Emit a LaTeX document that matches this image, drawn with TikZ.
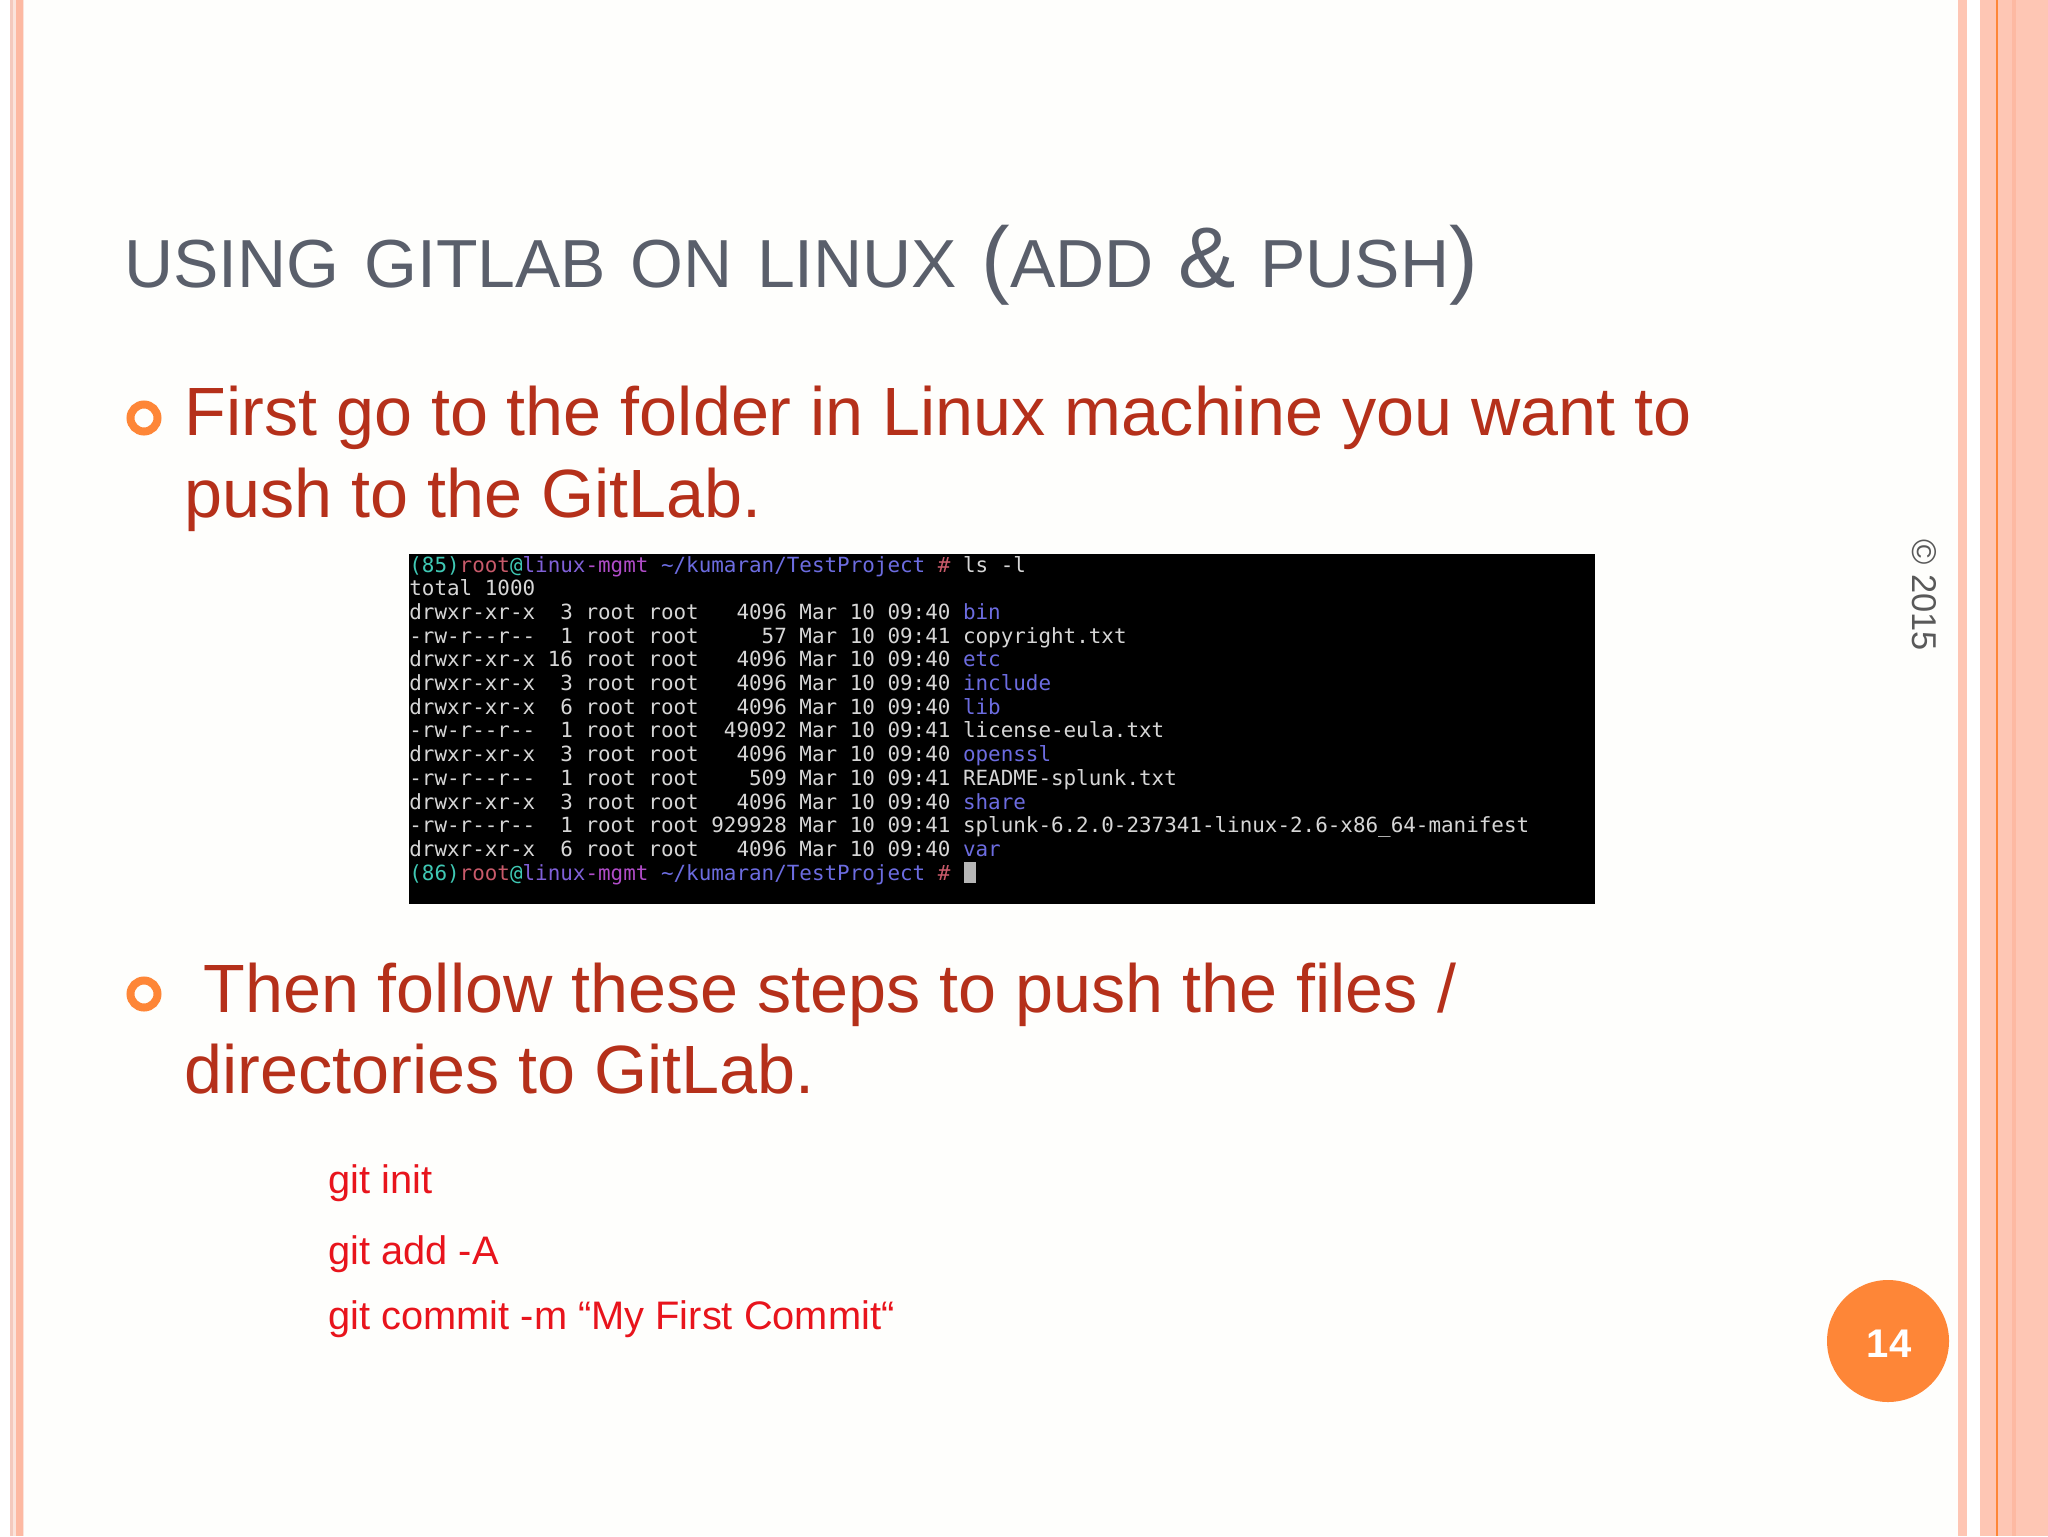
\documentclass[tikz,border=0pt]{standalone}
\usepackage{fontspec}
\setmainfont{Liberation Sans}
\newfontfamily\termfont[Ligatures=NoCommon]{DejaVu Sans Mono}
\definecolor{pagebg}{HTML}{FEFEFC}
\definecolor{salmon}{HTML}{FEC6B4}
\definecolor{salmondk}{HTML}{FDB9A2}
\definecolor{paleA}{HTML}{F4C9BD}
\definecolor{paleB}{HTML}{FBE3DB}
\definecolor{accent}{HTML}{FE8637}
\definecolor{titlecol}{HTML}{5A5F6B}
\definecolor{bodycol}{HTML}{B5301A}
\definecolor{cmdcol}{HTML}{E8141C}
\definecolor{tgrey}{HTML}{D6D6D6}
\definecolor{tteal}{HTML}{3FC8B4}
\definecolor{tred}{HTML}{C85A6A}
\definecolor{tblue}{HTML}{6C6CE0}
\definecolor{tmag}{HTML}{B04CC8}
\definecolor{tpurp}{HTML}{8060D8}
\tikzset{
  x=0.5pt,y=-0.5pt,
  stripe/.style={fill=#1,draw=none},
  titletext/.style={anchor=base west,inner sep=0pt,text=titlecol,font=\fontsize{34}{40}\selectfont},
  bodytext/.style={anchor=base west,inner sep=0pt,text=bodycol,font=\fontsize{34.15}{40}\selectfont},
  cmdtext/.style={anchor=base west,inner sep=0pt,text=cmdcol,font=\fontsize{19.9}{24}\selectfont},
  termline/.style={anchor=base west,inner sep=0pt,text=tgrey,font=\termfont\fontsize{10.45}{12}\selectfont},
  bulletring/.style={circle,draw=accent,line width=4pt,minimum size=13.5pt,inner sep=0pt,fill=none},
}
\newcommand\bigsym[1]{{\fontsize{43}{46}\selectfont #1}}
\newcommand\wgap{\ \hspace{2.8pt}}
\newcommand\promptline[1]{\textcolor{tteal}{(#1)}\textcolor{tred}{root}\textcolor{tteal}{@}\textcolor{tpurp}{linux}\textcolor{tmag}{-mgmt}~\textcolor{tblue}{\string~/kumaran/TestProject}~\textcolor{tred}{\#}}
\newcommand\dirname[1]{\textcolor{tblue}{#1}}
\begin{document}
\begin{tikzpicture}
\useasboundingbox (0,0) rectangle (2048,1536);
\fill[pagebg] (0,0) rectangle (2048,1536);
\fill[white] (0,0) rectangle (10,1536);
% left stripes
\fill[stripe=paleA] (10,0) rectangle (13,1536);
\fill[stripe=paleB] (13,0) rectangle (16,1536);
\fill[stripe=salmondk] (16,0) rectangle (23,1536);
\fill[stripe=paleB] (23,0) rectangle (24,1536);
% right stripes
\fill[stripe=salmon] (1958,0) rectangle (1967,1536);
\fill[white] (1967,0) rectangle (1980,1536);
\fill[stripe=salmon] (1980,0) rectangle (2048,1536);
\fill[stripe=accent] (1996,0) rectangle (1998,1536);
\fill[stripe=salmondk] (2012,0) rectangle (2016,1536);
% title
\node[titletext] (title) at (124,287) {USING\wgap GITLAB\wgap ON\wgap LINUX\wgap\bigsym{(}ADD\wgap\bigsym{\&}\wgap PUSH\bigsym{)}};
% bullets
\node[bulletring] (b1) at (144,418) {};
\node[bulletring] (b2) at (144,994) {};
\node[bodytext] (l1) at (184,435) {First go to the folder in Linux machine you want to};
\node[bodytext] (l2) at (184,517) {push to the GitLab.};
\node[bodytext] (l3) at (203,1012) {Then follow these steps to push the files /};
\node[bodytext] (l4) at (184,1093) {directories to GitLab.};
% terminal
\fill[black] (409,554) rectangle (1595,904);
\node[termline] (t1) at (409,572) {\promptline{85}~ls~-l};
\node[termline] (t2) at (409,595.7) {total 1000};
\node[termline] (t3) at (409,619.4) {drwxr-xr-x~~3~root~root~~~4096~Mar~10~09:40~\dirname{bin}};
\node[termline] (t4) at (409,643.1) {-rw-r-{}-r-{}-~~1~root~root~~~~~57~Mar~10~09:41~copyright.txt};
\node[termline] (t5) at (409,666.8) {drwxr-xr-x~16~root~root~~~4096~Mar~10~09:40~\dirname{etc}};
\node[termline] (t6) at (409,690.5) {drwxr-xr-x~~3~root~root~~~4096~Mar~10~09:40~\dirname{include}};
\node[termline] (t7) at (409,714.2) {drwxr-xr-x~~6~root~root~~~4096~Mar~10~09:40~\dirname{lib}};
\node[termline] (t8) at (409,737.9) {-rw-r-{}-r-{}-~~1~root~root~~49092~Mar~10~09:41~license-eula.txt};
\node[termline] (t9) at (409,761.6) {drwxr-xr-x~~3~root~root~~~4096~Mar~10~09:40~\dirname{openssl}};
\node[termline] (t10) at (409,785.3) {-rw-r-{}-r-{}-~~1~root~root~~~~509~Mar~10~09:41~README-splunk.txt};
\node[termline] (t11) at (409,809) {drwxr-xr-x~~3~root~root~~~4096~Mar~10~09:40~\dirname{share}};
\node[termline] (t12) at (409,832.7) {-rw-r-{}-r-{}-~~1~root~root~929928~Mar~10~09:41~splunk-6.2.0-237341-linux-2.6-x86\_64-manifest};
\node[termline] (t13) at (409,856.4) {drwxr-xr-x~~6~root~root~~~4096~Mar~10~09:40~\dirname{var}};
\node[termline] (t14) at (409,880.1) {\promptline{86}};
\fill[tgrey!85!black] (964,862) rectangle (976,883);
% commands
\node[cmdtext] (c1) at (328,1193.5) {git init};
\node[cmdtext] (c2) at (328,1264.5) {git add -A};
\node[cmdtext] (c3) at (328,1329) {git commit -m “My First Commit“};
% page number
\node[circle,fill=accent,minimum size=61pt,inner sep=0pt] (pg) at (1888,1341) {};
\node[inner sep=0pt,text=white,font=\bfseries\fontsize{20}{24}\selectfont] (pgnum) at (1889,1344) {14};
% copyright
\node[rotate=-90,inner sep=0pt,text=black!65,font=\fontsize{17.2}{20}\selectfont] (copy) at (1924.5,595) {© 2015};
\end{tikzpicture}
\end{document}
